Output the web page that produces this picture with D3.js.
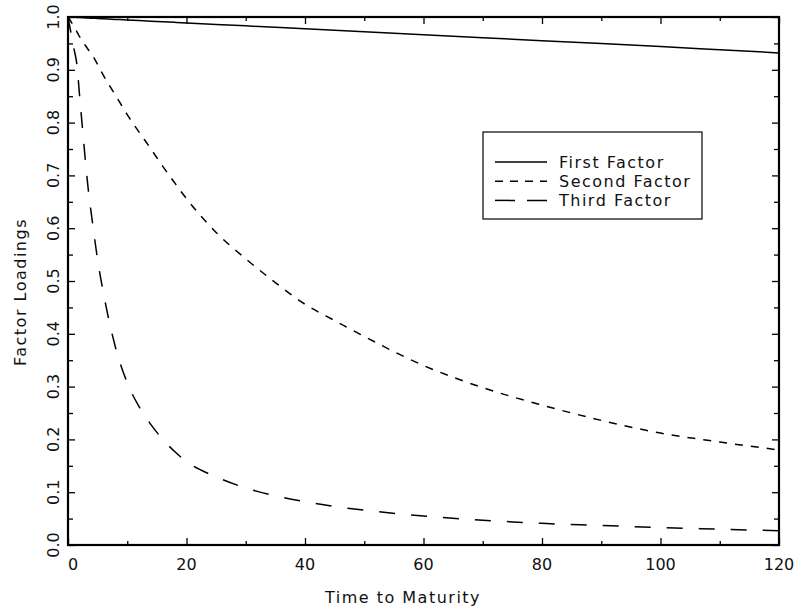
<!DOCTYPE html>
<html>
<head>
<meta charset="utf-8">
<script src="https://cdn.jsdelivr.net/npm/d3@7"></script>
<style>
  body { margin: 0; background: #fff; }
  text { font-family: "DejaVu Sans", sans-serif; fill: #111; }
</style>
</head>
<body>
<div class="chart"></div>
<script>
var maturity = [0, 1, 1.5, 2, 2.5, 3, 3.5, 4, 5, 6, 8, 10, 12, 14, 16, 18, 20, 25, 30, 35, 40, 45, 50, 60, 70, 80, 90, 100, 110, 120]

var firstFactor = [1.0, 0.9994, 0.9992, 0.9989, 0.9986, 0.9983, 0.998, 0.9977, 0.9972, 0.9966, 0.9955, 0.9944, 0.9932, 0.9921, 0.991, 0.9899, 0.9888, 0.986, 0.9832, 0.9804, 0.9776, 0.9748, 0.972, 0.9664, 0.9608, 0.9552, 0.9496, 0.944, 0.938, 0.932]
var secondFactor = [1.0, 0.982, 0.972, 0.962, 0.953, 0.945, 0.937, 0.93, 0.91, 0.889, 0.852, 0.815, 0.782, 0.75, 0.717, 0.686, 0.656, 0.592, 0.542, 0.497, 0.456, 0.425, 0.395, 0.34, 0.298, 0.265, 0.236, 0.212, 0.195, 0.18]
var thirdFactor = [1.0, 0.94, 0.91, 0.845, 0.782, 0.72, 0.665, 0.622, 0.54, 0.476, 0.375, 0.307, 0.262, 0.228, 0.2, 0.177, 0.158, 0.129, 0.108, 0.093, 0.082, 0.073, 0.066, 0.055, 0.047, 0.041, 0.037, 0.033, 0.030, 0.027]

var seriesNames = ["First Factor", "Second Factor", "Third Factor"]
var seriesDash = [null, "8,8", "16,16"]
var legendDash = [null, "8,7", "20,12"]

var xMajor = [0, 20, 40, 60, 80, 100, 120]
var xMinor = [10, 30, 50, 70, 90, 110]
var yMajor = [0.0, 0.1, 0.2, 0.3, 0.4, 0.5, 0.6, 0.7, 0.8, 0.9, 1.0]
var yMinor = [0.05, 0.15, 0.25, 0.35, 0.45, 0.55, 0.65, 0.75, 0.85, 0.95]

var W = 797, H = 609
var m = { left: 68, right: 18, top: 17, bottom: 64 }

var svg = d3.select('.chart')
    .append('svg')
    .attr('width', W)
    .attr('height', H)

var x = d3.scaleLinear().domain([0, 120]).range([m.left, W - m.right])
var y = d3.scaleLinear().domain([0, 1]).range([H - m.bottom, m.top])

// ticks, all pointing inward
function tickAxis(axis, vals, size) {
    return axis.tickValues(vals).tickSize(-size).tickFormat('')
}
var axes = svg.append('g').attr('class', 'axes')
axes.append('g').attr('transform', 'translate(0,' + y(0) + ')').call(tickAxis(d3.axisBottom(x), xMajor, 7))
axes.append('g').attr('transform', 'translate(0,' + y(0) + ')').call(tickAxis(d3.axisBottom(x), xMinor, 4))
axes.append('g').attr('transform', 'translate(0,' + y(1) + ')').call(tickAxis(d3.axisTop(x), xMajor, 7))
axes.append('g').attr('transform', 'translate(0,' + y(1) + ')').call(tickAxis(d3.axisTop(x), xMinor, 4))
axes.append('g').attr('transform', 'translate(' + x(0) + ',0)').call(tickAxis(d3.axisLeft(y), yMajor, 7))
axes.append('g').attr('transform', 'translate(' + x(0) + ',0)').call(tickAxis(d3.axisLeft(y), yMinor, 5))
axes.append('g').attr('transform', 'translate(' + x(120) + ',0)').call(tickAxis(d3.axisRight(y), yMajor, 7))
axes.append('g').attr('transform', 'translate(' + x(120) + ',0)').call(tickAxis(d3.axisRight(y), yMinor, 5))
axes.selectAll('.domain').remove()
axes.selectAll('.tick line').attr('stroke', '#000').attr('stroke-width', 1.3)

// frame
svg.append('rect')
    .attr('x', x(0)).attr('y', y(1))
    .attr('width', x(120) - x(0)).attr('height', y(0) - y(1))
    .attr('fill', 'none').attr('stroke', '#000').attr('stroke-width', 2.2)

// tick labels
svg.selectAll('.xlab')
    .data(xMajor)
    .enter()
    .append('text')
    .attr('class', 'xlab')
    .attr('x', d => x(d) + (d === 0 ? 5 : 0))
    .attr('y', y(0) + 25)
    .attr('text-anchor', 'middle')
    .style('font-size', '16px')
    .text(d => d)

svg.selectAll('.ylab')
    .data(yMajor)
    .enter()
    .append('text')
    .attr('class', 'ylab')
    .attr('transform', d => 'translate(59,' + y(d) + ') rotate(-90)')
    .attr('text-anchor', 'middle')
    .style('font-size', '16px')
    .text(d => d.toFixed(1))

// axis titles
svg.append('text')
    .attr('x', 403)
    .attr('y', 603)
    .attr('text-anchor', 'middle')
    .style('font-size', '16px')
    .style('letter-spacing', '1.5px')
    .text('Time to Maturity')

svg.append('text')
    .attr('transform', 'translate(26,292) rotate(-90)')
    .attr('text-anchor', 'middle')
    .style('font-size', '16px')
    .style('letter-spacing', '1.5px')
    .text('Factor Loadings')

// curves
var series = [firstFactor, secondFactor, thirdFactor]
var line = d3.line()
    .x((d, i) => x(maturity[i]))
    .y(d => y(d))
    .curve(d3.curveMonotoneX)

svg.selectAll('.curve')
    .data(series)
    .enter()
    .append('path')
    .attr('class', 'curve')
    .attr('d', line)
    .attr('fill', 'none')
    .attr('stroke', '#000')
    .attr('stroke-width', 1.5)
    .attr('stroke-dasharray', (d, i) => seriesDash[i])

// legend
var lg = svg.append('g').attr('transform', 'translate(483,132)')
lg.append('rect')
    .attr('width', 219).attr('height', 87)
    .attr('fill', '#fff').attr('stroke', '#000').attr('stroke-width', 1.2)

var item = lg.selectAll('.item')
    .data(seriesNames)
    .enter()
    .append('g')
    .attr('class', 'item')
    .attr('transform', (d, i) => 'translate(0,' + (30 + i * 19.2) + ')')

item.append('line')
    .attr('x1', 12).attr('x2', 64)
    .attr('stroke', '#000').attr('stroke-width', 1.5)
    .attr('stroke-dasharray', (d, i) => legendDash[i])

item.append('text')
    .attr('x', 76)
    .attr('y', 6)
    .style('font-size', '16px')
    .style('letter-spacing', '1.5px')
    .text(d => d)
</script>
</body>
</html>
